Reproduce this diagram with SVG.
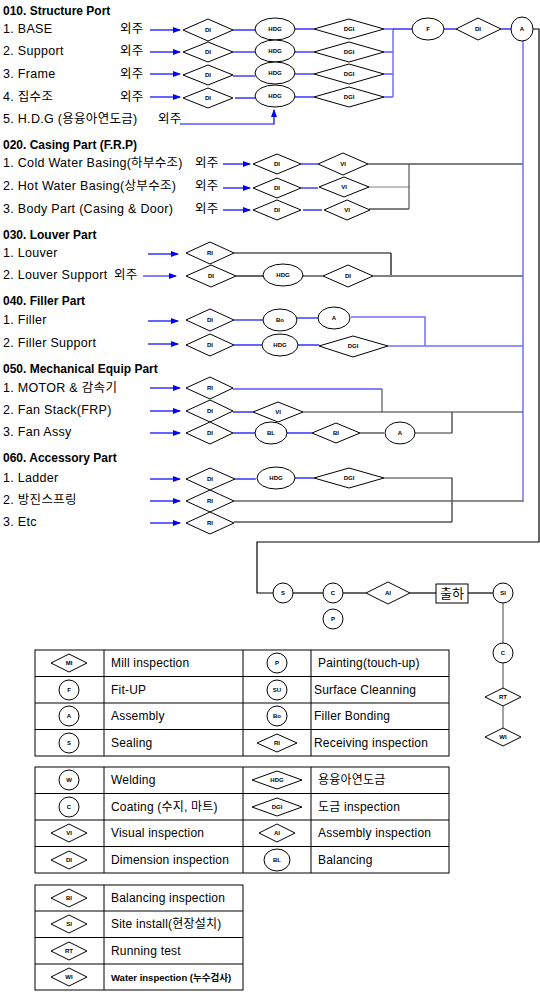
<svg xmlns="http://www.w3.org/2000/svg" width="540" height="1004" viewBox="0 0 540 1004">
<defs>
<marker id="ah" markerWidth="8" markerHeight="6" refX="7" refY="3" orient="auto" markerUnits="userSpaceOnUse"><path d="M0,0 L8,3 L0,6 z" fill="#0000ff"/></marker>
<style>
text{font-family:"Liberation Sans","Noto Sans CJK KR",sans-serif;fill:#000}
.t{font-size:12px;font-weight:bold}
.i{font-size:12.5px;letter-spacing:0.3px}
.l{font-size:12px;letter-spacing:0.2px}
.n{font-size:6px;font-weight:bold;text-anchor:middle}
.s{fill:#fff;stroke:#000;stroke-width:1}
.b{stroke:#0000ff;stroke-width:1.2;fill:none}
.lb{stroke:#7070ff;stroke-width:2;fill:none}
.g{stroke:#808080;stroke-width:2;fill:none}
.k{stroke:#000;stroke-width:1.2;fill:none}
.ar{stroke:#0000ff;stroke-width:1.2;fill:none;marker-end:url(#ah)}
.tb{stroke:#000;stroke-width:1;fill:none}
</style>
</defs>
<rect width="540" height="1004" fill="#fff"/>

<g id="labels">
<text class="t" x="3" y="15">010.  Structure Port</text>
<text class="i" x="3" y="33">1. BASE</text><text class="i" x="120" y="33">외주</text>
<text class="i" x="3" y="55">2. Support</text><text class="i" x="120" y="55">외주</text>
<text class="i" x="3" y="78">3. Frame</text><text class="i" x="120" y="78">외주</text>
<text class="i" x="3" y="101">4. 집수조</text><text class="i" x="120" y="101">외주</text>
<text class="i" x="3" y="123">5. H.D.G (용융아연도금)</text><text class="i" x="158" y="123">외주</text>
<text class="t" x="3" y="149">020.  Casing Part (F.R.P)</text>
<text class="i" x="3" y="167">1. Cold Water Basing(하부수조)</text><text class="i" x="195" y="167">외주</text>
<text class="i" x="3" y="190">2. Hot Water Basing(상부수조)</text><text class="i" x="195" y="190">외주</text>
<text class="i" x="3" y="213">3. Body Part (Casing &amp; Door)</text><text class="i" x="195" y="213">외주</text>
<text class="t" x="3" y="239">030.  Louver Part</text>
<text class="i" x="3" y="257">1. Louver</text>
<text class="i" x="3" y="279">2. Louver Support</text><text class="i" x="114" y="279">외주</text>
<text class="t" x="3" y="305">040.  Filler Part</text>
<text class="i" x="3" y="324">1. Filler</text>
<text class="i" x="3" y="347">2. Filler Support</text>
<text class="t" x="3" y="373">050.  Mechanical Equip Part</text>
<text class="i" x="3" y="392">1. MOTOR &amp; 감속기</text>
<text class="i" x="3" y="414">2. Fan Stack(FRP)</text>
<text class="i" x="3" y="436">3. Fan Assy</text>
<text class="t" x="3" y="462">060.  Accessory Part</text>
<text class="i" x="3" y="482">1. Ladder</text>
<text class="i" x="3" y="504">2. 방진스프링</text>
<text class="i" x="3" y="526">3. Etc</text>
</g>

<g id="connectors">
<line class="ar" x1="150" y1="30" x2="180" y2="30"/>
<line class="ar" x1="150" y1="52" x2="180" y2="52"/>
<line class="ar" x1="150" y1="74" x2="180" y2="74"/>
<line class="ar" x1="150" y1="97" x2="180" y2="97"/>
<path class="ar" d="M180,124 H274 V110"/>
<line class="b" x1="232" y1="30" x2="255" y2="30"/>
<line class="lb" x1="233" y1="52" x2="255" y2="52"/>
<line class="lb" x1="233" y1="76" x2="255" y2="76"/>
<line class="b" x1="235" y1="98" x2="255" y2="98"/>
<line class="b" x1="295" y1="29" x2="314" y2="29"/>
<line class="lb" x1="295" y1="52" x2="314" y2="52"/>
<line class="lb" x1="295" y1="74" x2="314" y2="74"/>
<line class="b" x1="295" y1="97" x2="314" y2="97"/>
<path class="b" d="M384,29 H393 M384,52 H393 M384,74 H393 M384,97 H393"/>
<line class="lb" x1="393" y1="29" x2="393" y2="97" style="stroke-width:1.5"/>
<line class="b" x1="393" y1="29" x2="412" y2="29"/>
<line class="b" x1="444" y1="29" x2="456" y2="29"/>
<line class="b" x1="501" y1="29" x2="512" y2="29"/>
<line class="lb" x1="523" y1="40" x2="523" y2="502" style="stroke-width:1.5"/>
<line class="ar" x1="223" y1="164" x2="250" y2="164"/>
<line class="ar" x1="223" y1="188" x2="250" y2="188"/>
<line class="ar" x1="223" y1="210" x2="250" y2="210"/>
<line class="lb" x1="301" y1="164" x2="318" y2="164"/>
<line class="lb" x1="301" y1="188" x2="318" y2="188"/>
<line class="b" x1="303" y1="210" x2="322" y2="210"/>
<line class="g" x1="368" y1="164" x2="523" y2="164"/>
<line class="g" x1="368" y1="187" x2="409" y2="187" style="stroke-width:1.2"/>
<line class="k" x1="369" y1="209" x2="409" y2="209"/>
<line class="g" x1="409" y1="164" x2="409" y2="209" style="stroke-width:1.2;stroke:#555"/>
<line class="ar" x1="148" y1="254" x2="178" y2="254"/>
<line class="k" x1="234" y1="253" x2="391" y2="253"/>
<line class="k" x1="391" y1="253" x2="391" y2="276"/>
<line class="ar" x1="143" y1="276" x2="176" y2="276"/>
<line class="k" x1="236" y1="276" x2="263" y2="276"/>
<line class="g" x1="303" y1="276" x2="323" y2="276"/>
<line class="g" x1="373" y1="276" x2="523" y2="276"/>
<line class="ar" x1="148" y1="321" x2="178" y2="321"/>
<line class="ar" x1="148" y1="344" x2="178" y2="344"/>
<line class="lb" x1="234" y1="320" x2="263" y2="320"/>
<line class="lb" x1="297" y1="318" x2="318" y2="318"/>
<path class="lb" d="M351,317 H425 V346" style="stroke-width:1.5"/>
<line class="b" x1="234" y1="345" x2="262" y2="345"/>
<line class="b" x1="298" y1="345" x2="319" y2="345"/>
<line class="lb" x1="388" y1="346" x2="523" y2="346" style="stroke-width:1.5"/>
<line class="ar" x1="150" y1="388" x2="180" y2="388"/>
<line class="ar" x1="150" y1="411" x2="180" y2="411"/>
<line class="ar" x1="150" y1="433" x2="180" y2="433"/>
<line class="b" x1="233" y1="389" x2="382" y2="389"/>
<line class="g" x1="382" y1="389" x2="382" y2="412" style="stroke-width:1.2;stroke:#555"/>
<line class="b" x1="233" y1="412" x2="253" y2="412"/>
<line class="k" x1="303" y1="412" x2="523" y2="412" style="stroke:#333"/>
<line class="b" x1="233" y1="433" x2="256" y2="433"/>
<line class="b" x1="286" y1="433" x2="312" y2="433"/>
<line class="k" x1="360" y1="433" x2="384" y2="433" style="stroke:#333"/>
<path class="k" d="M415,433 H452 V412" style="stroke:#333"/>
<line class="ar" x1="150" y1="479" x2="180" y2="479"/>
<line class="ar" x1="150" y1="501" x2="180" y2="501"/>
<line class="ar" x1="150" y1="523" x2="180" y2="523"/>
<line class="b" x1="235" y1="479" x2="256" y2="479"/>
<line class="b" x1="295" y1="478" x2="314" y2="478"/>
<path class="k" d="M384,478 H452 V522" style="stroke:#333"/>
<line class="g" x1="234" y1="501" x2="523" y2="501" style="stroke-width:1.5;stroke:#666"/>
<line class="k" x1="234" y1="522" x2="452" y2="522"/>
<path class="k" d="M533,29 H539 V542 H257 V593 H273"/>
<line class="k" x1="293" y1="593" x2="323" y2="593"/>
<line class="k" x1="343" y1="593" x2="366" y2="593"/>
<line class="k" x1="410" y1="593" x2="436" y2="593"/>
<line class="k" x1="468" y1="593" x2="493" y2="593"/>
<line class="g" x1="503" y1="603" x2="503" y2="643" style="stroke-width:1.2;stroke:#666"/>
<line class="g" x1="503" y1="663" x2="503" y2="688" style="stroke-width:1.2;stroke:#666"/>
<line class="g" x1="503" y1="706" x2="503" y2="728" style="stroke-width:1.2;stroke:#666"/>
</g>

<g id="s010-r1-di"><polygon class="s" points="183,30 208,19 233,30 208,41"/><text class="n" x="208" y="32">DI</text></g>
<g id="s010-r2-di"><polygon class="s" points="183,52 208,42 233,52 208,62"/><text class="n" x="208" y="54">DI</text></g>
<g id="s010-r3-di"><polygon class="s" points="183,75 208,65 233,75 208,85"/><text class="n" x="208" y="77">DI</text></g>
<g id="s010-r4-di"><polygon class="s" points="183,98 208,88 233,98 208,108"/><text class="n" x="208" y="100">DI</text></g>
<g id="s010-r1-hdg"><ellipse class="s" cx="275" cy="29" rx="20" ry="11"/><text class="n" x="275" y="31">HDG</text></g>
<g id="s010-r2-hdg"><ellipse class="s" cx="275" cy="51" rx="20" ry="11"/><text class="n" x="275" y="53">HDG</text></g>
<g id="s010-r3-hdg"><ellipse class="s" cx="275" cy="73" rx="20" ry="11"/><text class="n" x="275" y="75">HDG</text></g>
<g id="s010-r4-hdg"><ellipse class="s" cx="275" cy="96" rx="20" ry="11"/><text class="n" x="275" y="98">HDG</text></g>
<g id="s010-r1-dgi"><polygon class="s" points="314,29 349,19 384,29 349,39"/><text class="n" x="349" y="31">DGI</text></g>
<g id="s010-r2-dgi"><polygon class="s" points="314,52 349,42 384,52 349,62"/><text class="n" x="349" y="54">DGI</text></g>
<g id="s010-r3-dgi"><polygon class="s" points="314,74 349,64 384,74 349,84"/><text class="n" x="349" y="76">DGI</text></g>
<g id="s010-r4-dgi"><polygon class="s" points="314,97 349,87 384,97 349,107"/><text class="n" x="349" y="99">DGI</text></g>
<g id="fitup"><ellipse class="s" cx="428" cy="29" rx="16" ry="11"/><text class="n" x="428" y="31">F</text></g>
<g id="fitup-di"><polygon class="s" points="456,29 478,18 501,29 478,40"/><text class="n" x="478" y="31">DI</text></g>
<g id="assembly-main"><ellipse class="s" cx="522" cy="29" rx="11" ry="12"/><text class="n" x="522" y="31">A</text></g>

<g id="s020-r1-di"><polygon class="s" points="253,164 277,154 301,164 277,174"/><text class="n" x="277" y="166">DI</text></g>
<g id="s020-r2-di"><polygon class="s" points="253,188 277,178 301,188 277,198"/><text class="n" x="277" y="190">DI</text></g>
<g id="s020-r3-di"><polygon class="s" points="253,210 277,200 301,210 277,220"/><text class="n" x="277" y="212">DI</text></g>
<g id="s020-r1-vi"><polygon class="s" points="318,164 343,153 368,164 343,175"/><text class="n" x="343" y="166">VI</text></g>
<g id="s020-r2-vi"><polygon class="s" points="319,187 344,177 369,187 344,197"/><text class="n" x="344" y="189">VI</text></g>
<g id="s020-r3-vi"><polygon class="s" points="324,210 347,200 370,210 347,220"/><text class="n" x="347" y="212">VI</text></g>

<g id="s030-r1-ri"><polygon class="s" points="186,253 210,242 234,253 210,264"/><text class="n" x="210" y="255">RI</text></g>
<g id="s030-r2-di"><polygon class="s" points="186,276 211,265 236,276 211,287"/><text class="n" x="211" y="278">DI</text></g>
<g id="s030-r2-hdg"><ellipse class="s" cx="283" cy="275" rx="20" ry="11"/><text class="n" x="283" y="277">HDG</text></g>
<g id="s030-r2-di2"><polygon class="s" points="323,276 348,265 373,276 348,287"/><text class="n" x="348" y="278">DI</text></g>

<g id="s040-r1-di"><polygon class="s" points="186,320 210,309 234,320 210,331"/><text class="n" x="210" y="322">DI</text></g>
<g id="s040-r1-bo"><ellipse class="s" cx="280" cy="320" rx="17" ry="11"/><text class="n" x="280" y="322">Bo</text></g>
<g id="s040-r1-a"><ellipse class="s" cx="334" cy="318" rx="16" ry="11"/><text class="n" x="334" y="320">A</text></g>
<g id="s040-r2-di"><polygon class="s" points="186,345 210,334 234,345 210,356"/><text class="n" x="210" y="347">DI</text></g>
<g id="s040-r2-hdg"><ellipse class="s" cx="280" cy="345" rx="18" ry="11"/><text class="n" x="280" y="347">HDG</text></g>
<g id="s040-r2-dgi"><polygon class="s" points="319,346 353,336 388,346 353,357"/><text class="n" x="353" y="348">DGI</text></g>

<g id="s050-r1-ri"><polygon class="s" points="186,388 210,377 233,388 210,399"/><text class="n" x="210" y="390">RI</text></g>
<g id="s050-r2-di"><polygon class="s" points="186,411 210,400 233,411 210,422"/><text class="n" x="210" y="413">DI</text></g>
<g id="s050-r2-vi"><polygon class="s" points="253,412 278,402 303,412 278,422"/><text class="n" x="278" y="414">VI</text></g>
<g id="s050-r3-di"><polygon class="s" points="186,433 210,422 233,433 210,444"/><text class="n" x="210" y="435">DI</text></g>
<g id="s050-r3-bl"><ellipse class="s" cx="271" cy="433" rx="16" ry="11"/><text class="n" x="271" y="435">BL</text></g>
<g id="s050-r3-bi"><polygon class="s" points="312,433 336,423 360,433 336,443"/><text class="n" x="336" y="435">BI</text></g>
<g id="s050-r3-a"><ellipse class="s" cx="400" cy="433" rx="15" ry="11"/><text class="n" x="400" y="435">A</text></g>

<g id="s060-r1-di"><polygon class="s" points="186,479 210,468 235,479 210,490"/><text class="n" x="210" y="481">DI</text></g>
<g id="s060-r1-hdg"><ellipse class="s" cx="276" cy="478" rx="19" ry="11"/><text class="n" x="276" y="480">HDG</text></g>
<g id="s060-r1-dgi"><polygon class="s" points="314,478 349,468 384,478 349,488"/><text class="n" x="349" y="480">DGI</text></g>
<g id="s060-r2-ri"><polygon class="s" points="186,501 210,490 234,501 210,512"/><text class="n" x="210" y="503">RI</text></g>
<g id="s060-r3-ri"><polygon class="s" points="186,523 210,512 234,523 210,534"/><text class="n" x="210" y="525">RI</text></g>

<g id="sealing"><circle class="s" cx="283" cy="593" r="10"/><text class="n" x="283" y="595">S</text></g>
<g id="coating"><circle class="s" cx="333" cy="593" r="10"/><text class="n" x="333" y="595">C</text></g>
<g id="painting"><circle class="s" cx="333" cy="619" r="10"/><text class="n" x="333" y="621">P</text></g>
<g id="assembly-insp"><polygon class="s" points="366,593 388,582 410,593 388,604"/><text class="n" x="388" y="595">AI</text></g>
<g id="shipping"><rect class="s" x="436" y="584" width="32" height="19"/><text x="452" y="598" style="font-size:13px;text-anchor:middle">출하</text></g>
<g id="site-install"><circle class="s" cx="503" cy="593" r="10"/><text class="n" x="503" y="595">SI</text></g>
<g id="site-coating"><circle class="s" cx="503" cy="653" r="10"/><text class="n" x="503" y="655">C</text></g>
<g id="running-test"><polygon class="s" points="485,697 503,688 521,697 503,706"/><text class="n" x="503" y="699">RT</text></g>
<g id="water-insp"><polygon class="s" points="485,737 503,728 521,737 503,746"/><text class="n" x="503" y="739">WI</text></g>

<g id="legend1">
<rect class="tb" x="35" y="650" width="414" height="106"/>
<path class="tb" d="M35,676.5 H449 M35,703 H449 M35,729.5 H449 M104,650 V756 M243,650 V756 M311,650 V756"/>
<polygon class="s" points="51,663 69,654 87,663 69,672"/><text class="n" x="69" y="665">MI</text>
<circle class="s" cx="69" cy="690" r="10"/><text class="n" x="69" y="692">F</text>
<circle class="s" cx="69" cy="716" r="10"/><text class="n" x="69" y="718">A</text>
<circle class="s" cx="69" cy="743" r="10"/><text class="n" x="69" y="745">S</text>
<circle class="s" cx="277" cy="663" r="10"/><text class="n" x="277" y="665">P</text>
<circle class="s" cx="277" cy="690" r="10"/><text class="n" x="277" y="692">SU</text>
<circle class="s" cx="277" cy="716" r="10"/><text class="n" x="277" y="718">Bo</text>
<polygon class="s" points="257,743 277,734 297,743 277,752"/><text class="n" x="277" y="745">RI</text>
<text class="l" x="111" y="667">Mill inspection</text>
<text class="l" x="111" y="694">Fit-UP</text>
<text class="l" x="111" y="720">Assembly</text>
<text class="l" x="111" y="747">Sealing</text>
<text class="l" x="318" y="667">Painting(touch-up)</text>
<text class="l" x="314" y="694">Surface Cleanning</text>
<text class="l" x="314" y="720">Filler Bonding</text>
<text class="l" x="314" y="747">Receiving inspection</text>
</g>

<g id="legend2">
<rect class="tb" x="35" y="767" width="414" height="106"/>
<path class="tb" d="M35,793.5 H449 M35,820 H449 M35,846.5 H449 M104,767 V873 M243,767 V873 M311,767 V873"/>
<circle class="s" cx="69" cy="780" r="10"/><text class="n" x="69" y="782">W</text>
<circle class="s" cx="69" cy="807" r="10"/><text class="n" x="69" y="809">C</text>
<polygon class="s" points="51,833 69,824 87,833 69,842"/><text class="n" x="69" y="835">VI</text>
<polygon class="s" points="51,860 69,851 87,860 69,869"/><text class="n" x="69" y="862">DI</text>
<polygon class="s" points="252,780 277,771 302,780 277,789"/><text class="n" x="277" y="782">HDG</text>
<polygon class="s" points="252,807 277,798 302,807 277,816"/><text class="n" x="277" y="809">DGI</text>
<polygon class="s" points="259,833 277,824 295,833 277,842"/><text class="n" x="277" y="835">AI</text>
<ellipse class="s" cx="277" cy="860" rx="13" ry="11"/><text class="n" x="277" y="862">BL</text>
<text class="l" x="111" y="784">Welding</text>
<text class="l" x="111" y="811">Coating (수지, 마트)</text>
<text class="l" x="111" y="837">Visual inspection</text>
<text class="l" x="111" y="864">Dimension inspection</text>
<text class="l" x="318" y="784">용융아연도금</text>
<text class="l" x="318" y="811">도금 inspection</text>
<text class="l" x="318" y="837">Assembly inspection</text>
<text class="l" x="318" y="864">Balancing</text>
</g>

<g id="legend3">
<rect class="tb" x="35" y="885" width="208" height="105"/>
<path class="tb" d="M35,911 H243 M35,937.5 H243 M35,964 H243 M104,885 V990"/>
<polygon class="s" points="51,898 69,889 87,898 69,907"/><text class="n" x="69" y="900">BI</text>
<polygon class="s" points="51,924 69,915 87,924 69,933"/><text class="n" x="69" y="926">SI</text>
<polygon class="s" points="51,951 69,942 87,951 69,960"/><text class="n" x="69" y="953">RT</text>
<polygon class="s" points="51,977 69,968 87,977 69,986"/><text class="n" x="69" y="979">WI</text>
<text class="l" x="111" y="902">Balancing inspection</text>
<text class="l" x="111" y="928">Site install(현장설치)</text>
<text class="l" x="111" y="955">Running test</text>
<text x="111" y="981" style="font-size:9.5px;font-weight:bold">Water inspection (누수검사)</text>
</g>
</svg>
